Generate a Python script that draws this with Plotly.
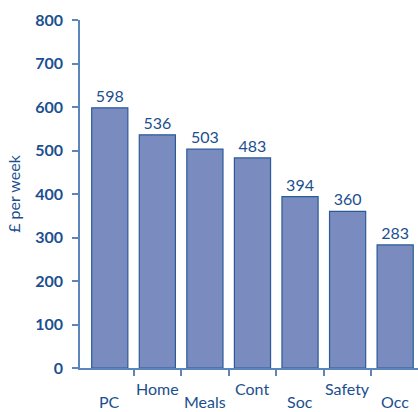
import plotly.graph_objects as go

categories = ["PC", "Home", "Meals", "Cont", "Soc", "Safety", "Occ"]
values = [598, 536, 503, 483, 394, 360, 283]
y_ticks = [0, 100, 200, 300, 400, 500, 600, 700, 800]

TEXT = "#1b4f8f"
AXIS = "#5a86bb"
FILL = "#7a8bbf"
EDGE = "#2a5b98"
FONT = "Lato"

pos = list(range(len(categories)))
bounds = [i + 0.5 for i in pos[:-1]]

fig = go.Figure(go.Bar(
    x=pos, y=values, width=0.76,
    marker=dict(color=FILL, line=dict(color=EDGE, width=1.2)),
    text=[str(v) for v in values], textposition="outside",
    textfont=dict(family=FONT, size=16, color=TEXT),
    cliponaxis=False,
))

# staggered category labels
for i, c in enumerate(categories):
    fig.add_annotation(
        x=i, y=0, xref="x", yref="y", text=c, showarrow=False,
        yanchor="middle", xanchor="center",
        yshift=-20 if i % 2 == 1 else -33,
        font=dict(family=FONT, size=16, color=TEXT),
    )

fig.update_layout(
    width=418, height=412,
    margin=dict(l=80, r=0, t=20, b=44),
    paper_bgcolor="white", plot_bgcolor="white",
    showlegend=False,
    font=dict(family=FONT, color=TEXT),
    xaxis=dict(
        range=[-0.626, 6.48], automargin=False,
        tickmode="array", tickvals=pos, showticklabels=False,
        ticks="", showgrid=False, zeroline=False,
        showline=True, linecolor=AXIS, linewidth=1.5,
        minor=dict(tickmode="array", tickvals=bounds, ticks="outside",
                   ticklen=6, tickcolor=AXIS, tickwidth=1.5, showgrid=False),
    ),
    yaxis=dict(
        title=dict(text="£ per week", font=dict(family=FONT, size=16, color=TEXT), standoff=11),
        range=[0, 800], tickmode="array", tickvals=y_ticks, automargin=False,
        ticks="outside", ticklen=6, tickcolor=AXIS, tickwidth=1.5,
        showgrid=False, zeroline=False,
        showline=True, linecolor=AXIS, linewidth=1.5,
        tickfont=dict(family=FONT, size=16, color=TEXT, weight="bold"),
        ticklabelstandoff=6,
    ),
)

fig.write_html("out.html")
